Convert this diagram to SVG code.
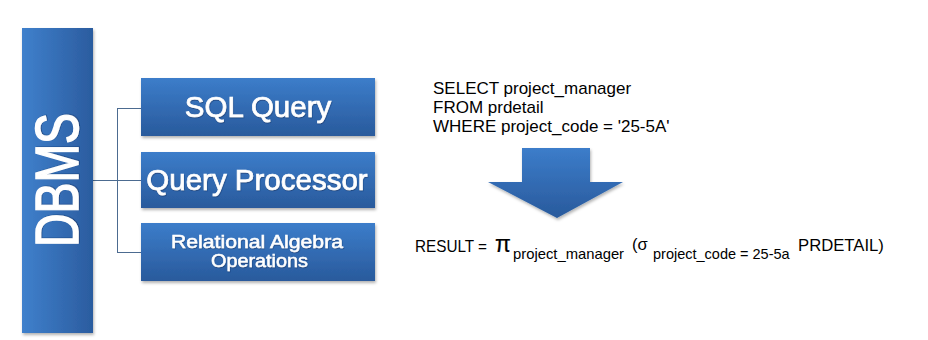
<svg xmlns="http://www.w3.org/2000/svg" width="928" height="340" viewBox="0 0 928 340">
<defs>
<linearGradient id="gBar" x1="0" y1="0" x2="1" y2="0">
<stop offset="0" stop-color="#3f80cc"/>
<stop offset="1" stop-color="#2b5c9f"/>
</linearGradient>
<linearGradient id="gBox" x1="0" y1="0" x2="0" y2="1">
<stop offset="0" stop-color="#3c7dca"/>
<stop offset="1" stop-color="#295a9c"/>
</linearGradient>
<filter id="sh" x="-10%" y="-10%" width="125%" height="130%">
<feDropShadow dx="1" dy="2" stdDeviation="1.5" flood-color="#000" flood-opacity="0.3"/>
</filter>
<filter id="tsh" x="-5%" y="-10%" width="110%" height="130%">
<feDropShadow dx="0.5" dy="1" stdDeviation="0.6" flood-color="#0a2a55" flood-opacity="0.5"/>
</filter>
<style>
.box{fill:url(#gBox);filter:url(#sh)}
.wt{fill:#fff;font-family:"Liberation Sans",Arial,sans-serif;text-anchor:middle;filter:url(#tsh);stroke:#fff;stroke-width:0.7}
.bk{fill:#000;font-family:"Liberation Sans",Arial,sans-serif}
.conn{stroke:#4c6b90;stroke-width:1;fill:none}
</style>
</defs>
<rect width="928" height="340" fill="#fff"/>
<g id="connectors">
<path class="conn" d="M93 180.5H141M117.5 108.5V252.5M117 108.5H141M117 252.5H141"/>
</g>
<g id="dbms">
<rect x="22" y="28" width="71" height="305" fill="url(#gBar)" filter="url(#sh)"/>
<text class="wt" font-size="62" style="stroke-width:1.5" transform="translate(78,180) rotate(-90)" textLength="134" lengthAdjust="spacingAndGlyphs">DBMS</text>
</g>
<g id="sql-query">
<rect class="box" x="141" y="78" width="234" height="58"/>
<text class="wt" x="258" y="117" font-size="29.5">SQL Query</text>
</g>
<g id="query-processor">
<rect class="box" x="141" y="152" width="234" height="56"/>
<text class="wt" x="257" y="190" font-size="29.5">Query Processor</text>
</g>
<g id="relational-algebra">
<rect class="box" x="141" y="223" width="234" height="58"/>
<text class="wt" x="257" y="248" font-size="18" style="stroke-width:0.5" textLength="172" lengthAdjust="spacingAndGlyphs">Relational Algebra</text>
<text class="wt" x="259.5" y="267" font-size="18" style="stroke-width:0.5" textLength="97" lengthAdjust="spacingAndGlyphs">Operations</text>
</g>
<g id="sql-text">
<text class="bk" font-size="17"><tspan x="433" y="94">SELECT project_manager</tspan><tspan x="433" y="113">FROM prdetail</tspan><tspan x="433" y="132">WHERE project_code = '25-5A'</tspan></text>
</g>
<g id="arrow">
<polygon points="522,148 590,148 590,182 623,182 557,218 488,182 522,182" fill="url(#gBox)" filter="url(#sh)"/>
</g>
<g id="result">
<text class="bk" font-size="16.5" x="415" y="252" textLength="72" lengthAdjust="spacingAndGlyphs">RESULT =</text>
<text class="bk" font-size="23" x="495" y="252" stroke="#000" stroke-width="0.2">π</text>
<text class="bk" font-size="14.8" x="513" y="259">project_manager</text>
<text class="bk" font-size="16.5" x="632" y="250">(σ</text>
<text class="bk" font-size="14.5" x="653" y="259">project_code = 25-5a</text>
<text class="bk" font-size="16.7" x="798" y="251">PRDETAIL)</text>
</g>
</svg>
